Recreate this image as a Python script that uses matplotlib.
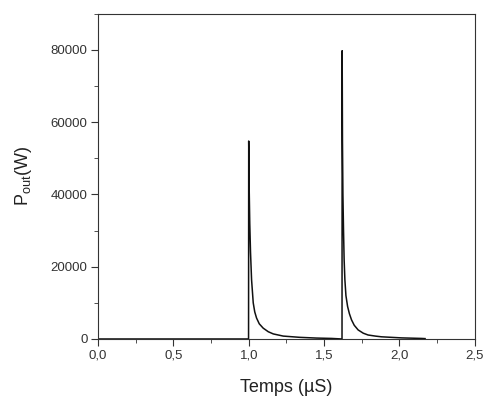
import numpy as np
import matplotlib.pyplot as plt
from matplotlib.ticker import MultipleLocator, FuncFormatter

plt.rcParams['font.family'] = ['Liberation Sans', 'DejaVu Sans']

# time (us) and output power (W)
t = [0.0, 0.999, 1.000, 1.003, 1.007, 1.012, 1.019, 1.030, 1.040, 1.052, 1.070,
     1.096, 1.130, 1.163, 1.229, 1.340, 1.450, 1.550, 1.619,
     1.620, 1.622, 1.625, 1.629, 1.633, 1.638, 1.645, 1.656, 1.668, 1.682,
     1.700, 1.726, 1.760, 1.792, 1.840, 1.881, 2.014, 2.146, 2.170]
p = [0, 0, 54800, 42000, 32000, 24000, 16400, 10000, 7500, 5800, 4200,
     3000, 2000, 1400, 800, 450, 250, 150, 0,
     79800, 55000, 40000, 30000, 22000, 16400, 12000, 9000, 7000, 5300,
     3800, 2500, 1600, 1100, 800, 600, 300, 150, 100]

fig = plt.figure(figsize=(4.85, 3.96), dpi=100)
ax = fig.add_axes([0.202, 0.144, 0.777, 0.821])
ax.plot(t, p, color='#111111', lw=1.1)

ax.set_xlim(0, 2.5)
ax.set_ylim(0, 90000)
ax.xaxis.set_major_locator(MultipleLocator(0.5))
ax.xaxis.set_minor_locator(MultipleLocator(0.25))
ax.yaxis.set_major_locator(MultipleLocator(20000))
ax.yaxis.set_minor_locator(MultipleLocator(10000))
ax.xaxis.set_major_formatter(FuncFormatter(lambda v, pos: f'{v:.1f}'.replace('.', ',')))
ax.tick_params(which='both', direction='out', top=False, right=False,
               labelsize=9.5, colors='#333333')
ax.tick_params(which='major', length=5, pad=2.5)
ax.tick_params(which='minor', length=3)
for s in ax.spines.values():
    s.set_color('#333333')

ax.set_xlabel('Temps (µS)', fontsize=13, color='#222222', labelpad=13)
ax.set_ylabel(r'P$_\mathregular{out}$(W)', fontsize=13, color='#222222', labelpad=12)

fig.savefig('out.png', dpi=100)
